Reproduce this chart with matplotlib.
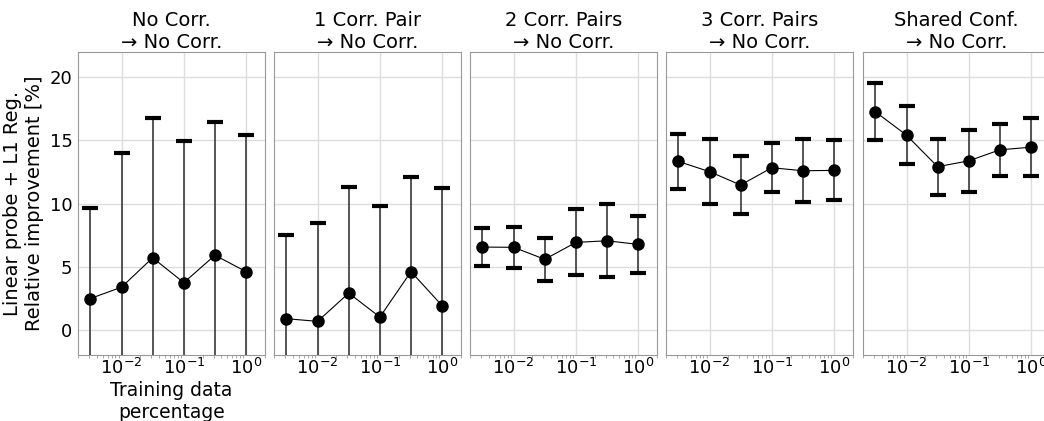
import matplotlib
matplotlib.use("Agg")
import matplotlib.pyplot as plt

# Training data fraction (log scale)
FRACTIONS = [0.00316, 0.01, 0.0316, 0.1, 0.316, 1.0]

TITLES = [
    "No Corr.\n\u2192 No Corr.",
    "1 Corr. Pair\n\u2192 No Corr.",
    "2 Corr. Pairs\n\u2192 No Corr.",
    "3 Corr. Pairs\n\u2192 No Corr.",
    "Shared Conf.\n\u2192 No Corr.",
]

# Mean relative improvement [%] per panel
MEAN_NO_CORR = [2.47, 3.37, 5.7, 3.73, 5.9, 4.6]
MEAN_1_PAIR = [0.87, 0.66, 2.9, 1.0, 4.6, 1.9]
MEAN_2_PAIRS = [6.55, 6.53, 5.58, 6.92, 7.05, 6.76]
MEAN_3_PAIRS = [13.34, 12.53, 11.47, 12.84, 12.6, 12.63]
MEAN_SHARED = [17.28, 15.42, 12.92, 13.39, 14.26, 14.47]

# Error bar half-widths
ERR_NO_CORR = [7.2, 10.6, 11.1, 11.2, 10.55, 10.8]
ERR_1_PAIR = [6.63, 7.8, 8.44, 8.8, 7.53, 9.36]
ERR_2_PAIRS = [1.54, 1.65, 1.72, 2.62, 2.88, 2.23]
ERR_3_PAIRS = [2.18, 2.58, 2.3, 1.95, 2.48, 2.37]
ERR_SHARED = [2.28, 2.28, 2.22, 2.48, 2.08, 2.29]

MEANS = [MEAN_NO_CORR, MEAN_1_PAIR, MEAN_2_PAIRS, MEAN_3_PAIRS, MEAN_SHARED]
ERRS = [ERR_NO_CORR, ERR_1_PAIR, ERR_2_PAIRS, ERR_3_PAIRS, ERR_SHARED]


def main():
    fig = plt.figure(figsize=(10.44, 4.21), dpi=100)

    lefts = [0.0747, 0.2625, 0.4503, 0.6379, 0.8266]
    width = 0.179
    bottom = 0.157
    height = 0.719

    axes = []
    for i, (title, mean, err) in enumerate(zip(TITLES, MEANS, ERRS)):
        ax = fig.add_axes([lefts[i], bottom, width, height])
        axes.append(ax)

        line, caps, bars = ax.errorbar(
            FRACTIONS, mean, yerr=err,
            color="black", ecolor="#3a3a3a", elinewidth=1.2,
            capsize=5.5, capthick=3, linewidth=0.8,
            marker="o", markersize=8, zorder=3,
        )
        # caps are drawn solid black in the original
        for cap in caps:
            cap.set_markeredgecolor("black")

        ax.set_xscale("log")
        ax.set_xlim(0.002, 2.0)
        ax.set_ylim(-2, 22)
        ax.set_yticks([0, 5, 10, 15, 20])
        ax.set_xticks([0.01, 0.1, 1.0])
        ax.set_title(title, fontsize=14, pad=3)

        ax.grid(True, which="major", color="#dddddd", linewidth=1)
        ax.set_axisbelow(True)
        for spine in ax.spines.values():
            spine.set_color("#999999")

        ax.tick_params(axis="both", which="major", length=0, labelsize=13)
        ax.tick_params(axis="x", which="major", pad=2)
        ax.tick_params(axis="y", which="major", pad=4)
        ax.tick_params(axis="x", which="minor", length=2, color="#999999")
        if i > 0:
            ax.tick_params(axis="y", labelleft=False)

    axes[0].set_ylabel("Linear probe + L1 Reg.\nRelative improvement [%]", fontsize=14)
    axes[0].set_xlabel("Training data\npercentage", fontsize=13.5, labelpad=2)

    fig.savefig("out.png", dpi=100)


if __name__ == "__main__":
    main()
